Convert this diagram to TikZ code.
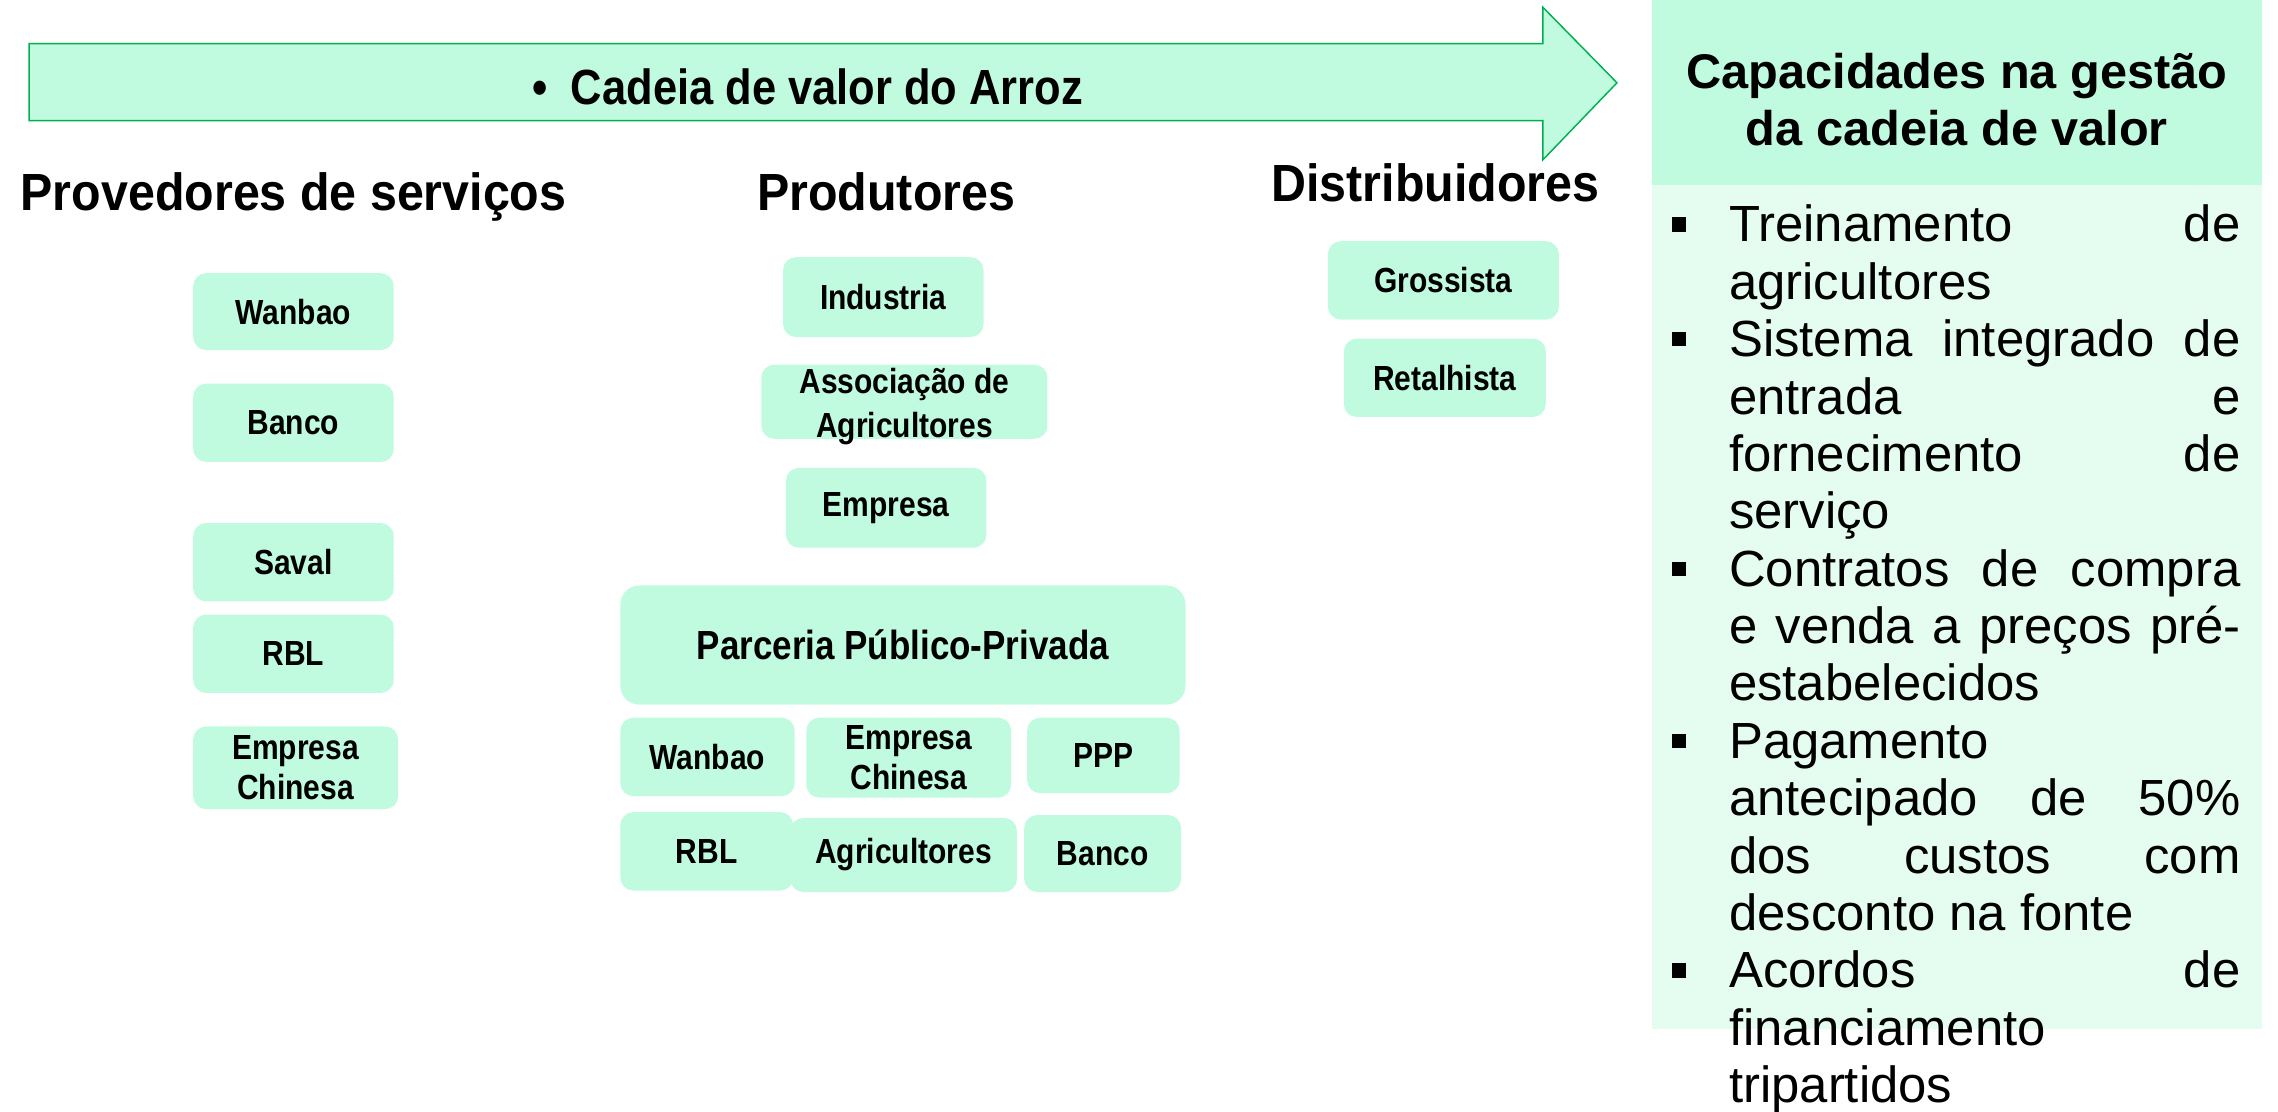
\documentclass[tikz,border=0pt]{standalone}
\usepackage{fontspec}
\setmainfont{Liberation Sans}
\newfontfamily\titlefont{Liberation Sans Bold}[FakeStretch=0.88]
\newfontfamily\headfont{Liberation Sans Bold}[FakeStretch=0.925]
\newfontfamily\boxfont{Liberation Sans Bold}[FakeStretch=0.86]
\newfontfamily\capfont{Liberation Sans Bold}
\newfontfamily\bodyfont{Liberation Sans}
\definecolor{mint}{RGB}{192,251,223}
\definecolor{mintlight}{RGB}{229,252,240}
\definecolor{arrowline}{RGB}{0,176,80}
\newcommand{\ctwo}[2]{\vtop{\halign{\hfil##\hfil\cr#1\cr#2\cr}}}
\newcommand{\jline}[1]{\hbox to 352pt{#1}}
\newcommand{\lline}[1]{\hbox to 352pt{#1\hfil}}
\newcommand{\bsq}{\llap{\rule[7pt]{9.5pt}{10pt}\hskip 29.8pt}}
\newcommand{\bjline}[1]{\hbox to 352pt{\bsq#1}}
\newcommand{\blline}[1]{\hbox to 352pt{\bsq#1\hfil}}
\begin{document}
\begin{tikzpicture}[x=1pt,y=-1pt,
  mbox/.style={fill=mint, rounded corners=9pt, inner sep=0pt, align=center,
    font=\boxfont\fontsize{24}{28}\selectfont},
  titletext/.style={inner sep=0pt, font=\titlefont\fontsize{34}{40}\selectfont},
  headtext/.style={inner sep=0pt, font=\headfont\fontsize{36}{44}\selectfont},
  captext/.style={inner sep=0pt, font=\capfont\fontsize{33.5}{39}\selectfont},
  boxtext/.style={inner sep=0pt, font=\boxfont\fontsize{24}{30}\selectfont},
  bodytext/.style={inner sep=0pt, font=\bodyfont\fontsize{35}{39.5}\selectfont},
  chainarrow/.style={fill=mint, draw=arrowline, line width=1pt}]
\useasboundingbox (0,0) rectangle (1568,765);

% value chain arrow
\draw[chainarrow] (20,30) -- (1062,30) -- (1062,5) -- (1113,57) -- (1062,110) -- (1062,83) -- (20,83) -- cycle;
\node[titletext, anchor=base] (title) at (556,72) {•\hspace{16pt}Cadeia de valor do Arroz};

% right panel
\fill[mint] (1137,0) rectangle (1557,127);
\fill[mintlight] (1137,127) rectangle (1557,708);
\node[captext, anchor=base] (caph) at (1347,61) {\ctwo{Capacidades na gestão}{da cadeia de valor}};
\node[bodytext, anchor=base west] (body) at (1190,166.5) {\vtop{\baselineskip=39.5pt
\bjline{Treinamento\hfill de}
\lline{agricultores}
\bjline{Sistema\hfill integrado\hfill de}
\jline{entrada\hfill e}
\jline{fornecimento\hfill de}
\lline{serviço}
\bjline{Contratos\hfill de\hfill compra}
\jline{e\hfill venda\hfill a\hfill preços\hfill pré-}
\lline{estabelecidos}
\blline{Pagamento}
\jline{antecipado\hfill de\hfill 50\%}
\jline{dos\hfill custos\hfill com}
\lline{desconto na fonte}
\bjline{Acordos\hfill de}
\lline{financiamento}
\lline{tripartidos}}};

% column headers
\node[headtext, anchor=base west] (hprov) at (14,145) {Provedores de serviços};
\node[headtext, anchor=base west] (hprod) at (521,145) {Produtores};
\node[headtext, anchor=base west] (hdist) at (875,139) {Distribuidores};

% service providers
\node[mbox, minimum width=138pt, minimum height=53pt] (lw) at (202,214.5) {Wanbao};
\node[mbox, minimum width=138pt, minimum height=54pt] (lb) at (202,291) {Banco};
\node[mbox, minimum width=138pt, minimum height=54pt] (ls) at (202,387) {Saval};
\node[mbox, minimum width=138pt, minimum height=54pt] (lr) at (202,450) {RBL};
\node[mbox, minimum width=141pt, minimum height=57pt] (le) at (203.5,528.5) {Empresa\\Chinesa};

% producers
\node[mbox, minimum width=138pt, minimum height=55pt] (mi) at (608,204.5) {Industria};
\node[mbox, minimum width=197pt, minimum height=51pt] (ma) at (622.5,276.5) {};
\node[boxtext, anchor=base] (mat) at (622.5,271) {\ctwo{Associação de}{Agricultores}};
\node[mbox, minimum width=138pt, minimum height=55pt] (me) at (610,349.5) {Empresa};
\node[mbox, rounded corners=13pt, minimum width=389pt, minimum height=82pt,
  font=\boxfont\fontsize{28}{32}\selectfont] (ppp) at (621.5,444) {Parceria Público-Privada};
\node[mbox, minimum width=120pt, minimum height=54pt] (bw) at (487,521) {Wanbao};
\node[mbox, minimum width=141pt, minimum height=55pt] (bc) at (625.5,521.5) {Empresa\\Chinesa};
\node[mbox, minimum width=105pt, minimum height=52pt] (bp) at (759.5,520) {PPP};
\node[mbox, minimum width=119pt, minimum height=54pt] (br) at (486.5,586) {RBL};
\node[mbox, minimum width=156pt, minimum height=51pt] (ba) at (622,588.5) {Agricultores};
\node[mbox, minimum width=108pt, minimum height=53pt] (bb) at (759,587.5) {Banco};

% distributors
\node[mbox, minimum width=159pt, minimum height=54pt] (dg) at (993.5,193) {Grossista};
\node[mbox, minimum width=139pt, minimum height=54pt] (dr) at (994.5,260) {Retalhista};
\end{tikzpicture}
\end{document}
